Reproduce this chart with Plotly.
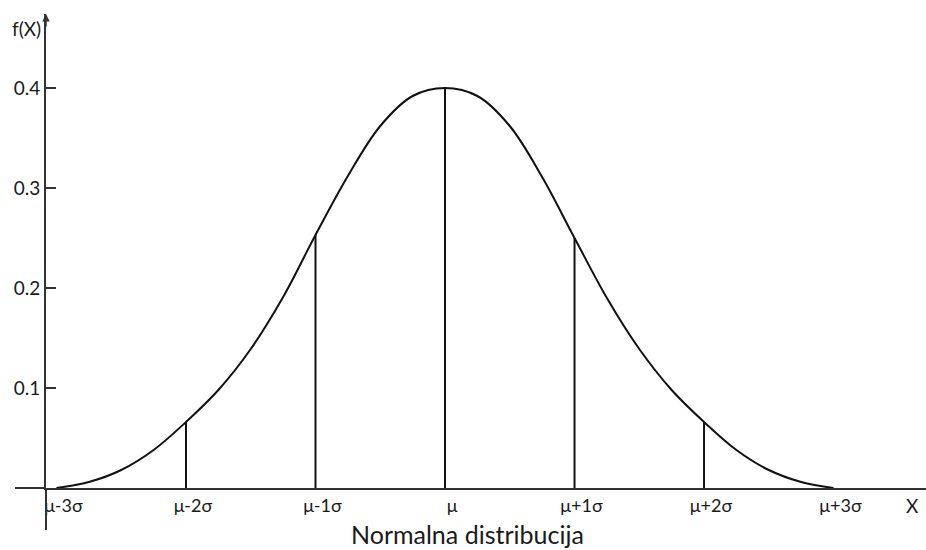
import plotly.graph_objects as go

# Curve samples (x in sigma units from the mean, y = f(X))
curve_x = [-3.0, -2.75, -2.5, -2.25, -2.0, -1.75, -1.5, -1.25, -1.0, -0.75, -0.5, -0.25,
           0.0, 0.25, 0.5, 0.75, 1.0, 1.25, 1.5, 1.75, 2.0, 2.25, 2.5, 2.75, 3.0]
curve_y = [0.0, 0.006, 0.018, 0.038, 0.066, 0.098, 0.139, 0.191, 0.253, 0.312, 0.362, 0.392,
           0.400, 0.392, 0.362, 0.311, 0.250, 0.190, 0.139, 0.098, 0.066, 0.038, 0.018, 0.006, 0.0]

# Vertical marker lines at the sigma positions
marker_x = [-2, -1, 0, 1, 2]
marker_h = [0.066, 0.253, 0.400, 0.250, 0.066]

# Axis ticks
x_tickvals = [-3, -2, -1, 0, 1, 2, 3]
x_ticktext = ["μ-3σ", "μ-2σ", "μ-1σ", "μ", "μ+1σ", "μ+2σ", "μ+3σ"]
y_tickvals = [0.1, 0.2, 0.3, 0.4]
y_ticktext = ["0.1", "0.2", "0.3", "0.4"]

FONT = "Lato"
INK = "#1a1a1a"

seg_x, seg_y = [], []
for xv, hv in zip(marker_x, marker_h):
    seg_x += [xv, xv, None]
    seg_y += [0, hv, None]

fig = go.Figure()
fig.add_trace(go.Scatter(x=seg_x, y=seg_y, mode="lines",
                         line=dict(color="#111111", width=2), hoverinfo="skip"))
fig.add_trace(go.Scatter(x=curve_x, y=curve_y, mode="lines", line_shape="spline",
                         line=dict(color="#111111", width=2, smoothing=1.0), hoverinfo="skip"))

fig.update_layout(
    width=926, height=550,
    margin=dict(l=46, r=0, t=14, b=62, autoexpand=False),
    paper_bgcolor="white", plot_bgcolor="white",
    showlegend=False,
    font=dict(family=FONT, color=INK, size=18),
    xaxis=dict(range=[-3.081, 3.714], tickvals=x_tickvals, ticktext=x_ticktext,
               showgrid=False, zeroline=False, showline=True, linecolor="#333333",
               linewidth=2, ticks="", ticklabelshift=7, automargin=False,
               tickfont=dict(size=18, family=FONT, color=INK)),
    yaxis=dict(range=[0, 0.474], tickvals=y_tickvals, ticktext=y_ticktext,
               showgrid=False, zeroline=False, showline=True, linecolor="#333333",
               linewidth=2, ticks="inside", ticklen=10, tickwidth=2, tickcolor="#333333",
               automargin=False, tickfont=dict(size=19, family=FONT, color=INK)),
    shapes=[
        # extension of x axis to the left of the y axis
        dict(type="line", xref="paper", yref="paper", x0=-0.0352, x1=0, y0=0, y1=0,
             line=dict(color="#333333", width=2)),
        # extension of y axis below the x axis
        dict(type="line", xref="paper", yref="paper", x0=0, x1=0, y0=-0.0886, y1=0,
             line=dict(color="#333333", width=2)),
    ],
    annotations=[
        dict(xref="paper", yref="paper", x=0, y=1.0, ax=0, ay=14, showarrow=True,
             arrowhead=2, arrowsize=1, arrowwidth=1.5, arrowcolor="#333333", text=""),
        dict(xref="paper", yref="paper", x=-0.0216, y=0.970, xanchor="center", yanchor="middle",
             text="f(X)", showarrow=False, font=dict(size=19, family=FONT, color=INK)),
        dict(xref="paper", yref="paper", x=0.9852, y=-0.0359, xanchor="center", yanchor="middle",
             text="X", showarrow=False, font=dict(size=19, family=FONT, color=INK)),
        dict(xref="paper", yref="paper", x=0.4795, y=-0.0970, xanchor="center", yanchor="middle",
             text="Normalna distribucija", showarrow=False,
             font=dict(size=25, family=FONT, color=INK)),
    ],
)

fig.write_html("out.html", config={"displayModeBar": False},
               post_script="document.body.style.margin='0';")
